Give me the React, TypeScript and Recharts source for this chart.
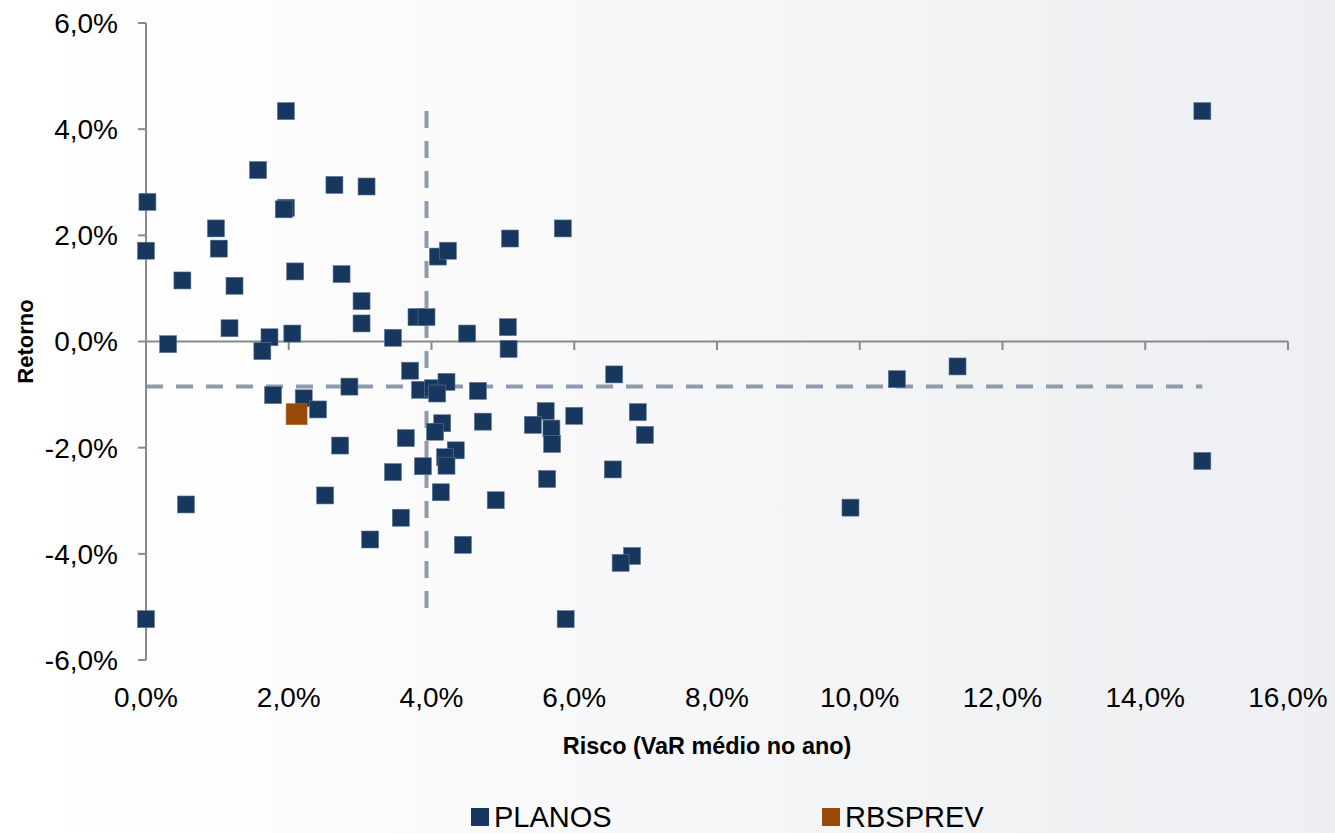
import React from 'react';
import {
  ScatterChart,
  Scatter,
  XAxis,
  YAxis,
  ZAxis,
  ReferenceLine,
  Legend,
  Label,
} from 'recharts';

// ---- Data (percent) ----
const planosRisk = [
  1.96, 1.57, 2.64, 3.09, 0.02, 1.96, 1.93, 0.98, 0.0, 1.02,
  0.51, 1.24, 2.09, 2.74, 3.02, 3.02, 1.17, 1.73, 2.05, 3.46,
  0.31, 1.63, 4.09, 4.23, 3.79, 3.93, 5.84, 5.1, 4.5, 5.07,
  5.08, 3.7, 2.85, 1.78, 2.21, 2.41, 3.84, 4.02, 4.21, 4.08,
  4.65, 6.56, 5.6, 5.42, 5.68, 5.69, 6.0, 6.89, 6.99, 4.72,
  4.15, 4.05, 3.64, 2.72, 4.34, 4.19, 4.21, 3.88, 3.46, 6.54,
  5.62, 4.13, 4.9, 2.51, 3.57, 3.14, 0.56, 0.0, 4.44, 6.81,
  6.65, 5.88, 9.87, 10.52, 11.37, 14.8, 14.8,
];
const planosReturn = [
  4.34, 3.23, 2.95, 2.92, 2.63, 2.52, 2.49, 2.13, 1.71, 1.75,
  1.15, 1.05, 1.32, 1.27, 0.76, 0.34, 0.25, 0.08, 0.15, 0.07,
  -0.05, -0.18, 1.6, 1.71, 0.46, 0.46, 2.13, 1.94, 0.15, 0.27,
  -0.14, -0.55, -0.85, -1.01, -1.07, -1.28, -0.91, -0.88, -0.76, -0.98,
  -0.93, -0.62, -1.31, -1.57, -1.64, -1.93, -1.4, -1.33, -1.76, -1.51,
  -1.54, -1.7, -1.82, -1.96, -2.05, -2.18, -2.34, -2.35, -2.46, -2.41,
  -2.59, -2.84, -2.99, -2.9, -3.32, -3.73, -3.07, -5.23, -3.83, -4.04,
  -4.17, -5.23, -3.13, -0.71, -0.47, 4.34, -2.25,
];
const rbsprevRisk = [2.11];
const rbsprevReturn = [-1.37];

const avgRisk = 3.93;
const avgReturn = -0.85;

const xTicks = [0, 2, 4, 6, 8, 10, 12, 14, 16];
const yTicks = [-6, -4, -2, 0, 2, 4, 6];

const seriesNames = ['PLANOS', 'RBSPREV'];
const seriesColors = ['#17375E', '#984807'];

const planosData = planosRisk.map((x, i) => ({ x, y: planosReturn[i] }));
const rbsprevData = rbsprevRisk.map((x, i) => ({ x, y: rbsprevReturn[i] }));

const minRisk = Math.min(...planosRisk);
const maxRisk = Math.max(...planosRisk);
const minRet = Math.min(...planosReturn);
const maxRet = Math.max(...planosReturn);

const fmt = (v: number) => v.toFixed(1).replace('.', ',') + '%';

const FONT = '"Liberation Sans", Arial, Helvetica, sans-serif';
const AXIS = '#8a8a8a';
const DASH = '#8e9bad';

const squareShape = (color: string, s: number, stroke: string) => (props: any) => {
  const { cx, cy } = props;
  if (cx == null || cy == null) return <g />;
  return (
    <rect
      x={cx - s / 2}
      y={cy - s / 2}
      width={s}
      height={s}
      fill={color}
      stroke={stroke}
      strokeWidth={0.6}
    />
  );
};

const LegendContent = () => (
  <div
    style={{
      display: 'flex',
      alignItems: 'center',
      height: 34,
      paddingLeft: 471,
      fontFamily: FONT,
      fontSize: 29,
      color: '#000',
    }}
  >
    {seriesNames.map((n, i) => (
      <div
        key={n}
        style={{ display: 'flex', alignItems: 'center', width: i === 0 ? 351 : 200 }}
      >
        <span
          style={{
            display: 'inline-block',
            width: 18,
            height: 18,
            background: seriesColors[i],
            marginRight: 5,
          }}
        />
        <span>{n}</span>
      </div>
    ))}
  </div>
);

const YLabel = (props: any) => {
  const vb = props.viewBox || {};
  const x = (vb.x || 0) + 25;
  const y = (vb.y || 0) + (vb.height || 0) / 2;
  return (
    <text
      x={x}
      y={y}
      transform={`rotate(-90, ${x}, ${y})`}
      textAnchor="middle"
      dominantBaseline="central"
      fontFamily={FONT}
      fontSize={22}
      fontWeight="bold"
      fill="#000"
    >
      Retorno
    </text>
  );
};

const XLabel = (props: any) => {
  const vb = props.viewBox || {};
  const x = (vb.x || 0) + (vb.width || 0) / 2 - 10;
  const y = (vb.y || 0) + 86;
  return (
    <text
      x={x}
      y={y}
      textAnchor="middle"
      dominantBaseline="central"
      fontFamily={FONT}
      fontSize={23.4}
      fontWeight="bold"
      fill="#000"
    >
      Risco (VaR médio no ano)
    </text>
  );
};

export default function App() {
  return (
    <div
      style={{
        position: 'absolute',
        left: 0,
        top: 0,
        width: 1335,
        height: 833,
        background: 'linear-gradient(to right, #ffffff 0%, #fafafb 35%, #f1f2f4 75%, #eeeff2 100%)',
      }}
    >
      <ScatterChart
        width={1335}
        height={833}
        margin={{ top: 23, right: 47, left: 0, bottom: 0 }}
      >
        <XAxis
          type="number"
          dataKey="x"
          domain={[0, 16]}
          ticks={xTicks}
          tickFormatter={fmt}
          axisLine={false}
          tickLine={false}
          tickSize={8}
          tickMargin={19}
          height={173}
          tick={{ fill: '#000', fontSize: 28, fontFamily: FONT }}
        >
          <Label content={XLabel} />
        </XAxis>
        <YAxis
          type="number"
          dataKey="y"
          domain={[-6, 6]}
          ticks={yTicks}
          tickFormatter={fmt}
          width={146}
          axisLine={{ stroke: AXIS, strokeWidth: 2 }}
          tickLine={{ stroke: AXIS, strokeWidth: 2 }}
          tickSize={8}
          tickMargin={20}
          tick={{ fill: '#000', fontSize: 28, fontFamily: FONT }}
        >
          <Label content={YLabel} />
        </YAxis>
        <ZAxis range={[289, 289]} />

        <ReferenceLine y={0} stroke={AXIS} strokeWidth={2} />
        {xTicks
          .filter((t) => t > 0)
          .map((t) => (
            <ReferenceLine
              key={'t' + t}
              segment={[
                { x: t, y: 0 },
                { x: t, y: -0.16 },
              ]}
              stroke={AXIS}
              strokeWidth={2}
            />
          ))}
        <ReferenceLine
          segment={[
            { x: minRisk, y: avgReturn },
            { x: maxRisk, y: avgReturn },
          ]}
          stroke={DASH}
          strokeWidth={4}
          strokeDasharray="17 13"
        />
        <ReferenceLine
          segment={[
            { x: avgRisk, y: maxRet },
            { x: avgRisk, y: minRet },
          ]}
          stroke={DASH}
          strokeWidth={4}
          strokeDasharray="17 13"
        />

        <Scatter
          name={seriesNames[0]}
          data={planosData}
          fill={seriesColors[0]}
          shape={squareShape(seriesColors[0], 17, '#5f7898')}
          isAnimationActive={false}
        />
        <Scatter
          name={seriesNames[1]}
          data={rbsprevData}
          fill={seriesColors[1]}
          shape={squareShape(seriesColors[1], 21, '#b06a30')}
          isAnimationActive={false}
        />
        <Legend
          layout="horizontal"
          verticalAlign="middle"
          align="center"
          content={LegendContent}
          wrapperStyle={{ top: 800, left: 0, width: 1335, height: 34 }}
        />
      </ScatterChart>
    </div>
  );
}
